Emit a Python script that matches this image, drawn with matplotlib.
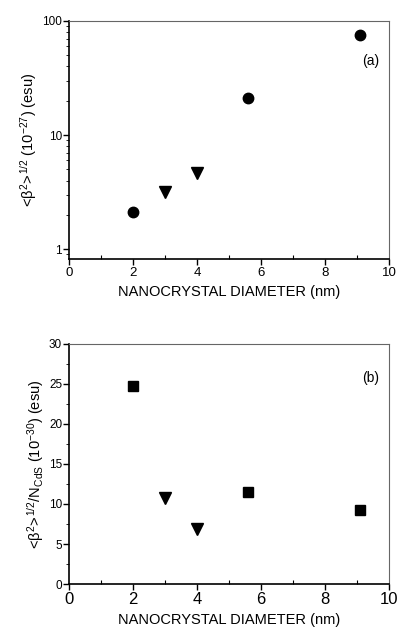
import matplotlib
matplotlib.use("Agg")
import matplotlib.pyplot as plt
from matplotlib.ticker import MultipleLocator, LogLocator, NullFormatter, FixedLocator

plt.rcParams['font.family'] = ['Liberation Sans Narrow', 'Liberation Sans', 'DejaVu Sans']
plt.rcParams['mathtext.fontset'] = 'custom'
plt.rcParams['mathtext.rm'] = 'Liberation Sans'
plt.rcParams['mathtext.it'] = 'Liberation Sans:italic'
plt.rcParams['mathtext.default'] = 'regular'

# Panel (a) data
a_circle_x = [2.0, 5.6, 9.1]
a_circle_y = [2.1, 21.2, 76.0]
a_tri_x = [3.0, 4.0]
a_tri_y = [3.2, 4.7]

# Panel (b) data
b_square_x = [2.0, 5.6, 9.1]
b_square_y = [24.7, 11.5, 9.25]
b_tri_x = [3.0, 4.0]
b_tri_y = [10.8, 6.9]

x_ticks = [0, 2, 4, 6, 8, 10]
xlabel = "NANOCRYSTAL DIAMETER (nm)"

fig = plt.figure(figsize=(3.98, 6.35), dpi=100)
ax1 = fig.add_axes([0.1734, 0.592, 0.804, 0.375])
ax2 = fig.add_axes([0.1734, 0.0803, 0.804, 0.378])

def style(ax, xtick_size):
    for s in ['top', 'right']:
        ax.spines[s].set_color('#666666')
        ax.spines[s].set_linewidth(0.8)
    for s in ['left', 'bottom']:
        ax.spines[s].set_linewidth(1.2)
    ax.set_xlim(0, 10)
    ax.set_xticks(x_ticks)
    ax.xaxis.set_minor_locator(MultipleLocator(1))
    ax.tick_params(axis='x', which='major', direction='out', length=4, width=1, labelsize=xtick_size, pad=2)
    ax.tick_params(axis='x', which='minor', direction='in', length=3, width=0.8)
    ax.tick_params(axis='y', which='major', direction='out', length=4, width=1, labelsize=8.5, pad=1)
    ax.tick_params(axis='y', which='minor', direction='out', length=2, width=0.6)
    ax.set_xlabel(xlabel, fontsize=10.5, labelpad=4)

# Panel (a)
ax1.set_yscale('log')
ax1.plot(a_circle_x, a_circle_y, 'o', color='black', markersize=7.5, linestyle='none')
ax1.plot(a_tri_x, a_tri_y, 'v', color='black', markersize=8.5, linestyle='none')
ax1.set_ylim(0.82, 100)
ax1.yaxis.set_major_locator(FixedLocator([1, 10, 100]))
ax1.set_yticklabels(['1', '10', '100'])
ax1.yaxis.set_minor_locator(LogLocator(base=10, subs=range(2, 10)))
ax1.yaxis.set_minor_formatter(NullFormatter())
style(ax1, 9.5)
ax1.set_ylabel(r'<$\beta^2$>$^{\,1/2}$ (10$^{-27}$) (esu)', fontsize=10.5, labelpad=2)
ax1.text(0.97, 0.83, '(a)', transform=ax1.transAxes, ha='right', va='center', fontsize=10)

# Panel (b)
ax2.plot(b_square_x, b_square_y, 's', color='black', markersize=7, linestyle='none')
ax2.plot(b_tri_x, b_tri_y, 'v', color='black', markersize=8.5, linestyle='none')
ax2.set_ylim(0, 30)
ax2.set_yticks([0, 5, 10, 15, 20, 25, 30])
ax2.yaxis.set_minor_locator(MultipleLocator(2.5))
style(ax2, 12)
ax2.set_ylabel(r'<$\beta^2$>$^{\,1/2}$/N$_{CdS}$ (10$^{-30}$) (esu)', fontsize=10.5, labelpad=2)
ax2.text(0.97, 0.86, '(b)', transform=ax2.transAxes, ha='right', va='center', fontsize=10)

fig.savefig('out.png', dpi=100)
